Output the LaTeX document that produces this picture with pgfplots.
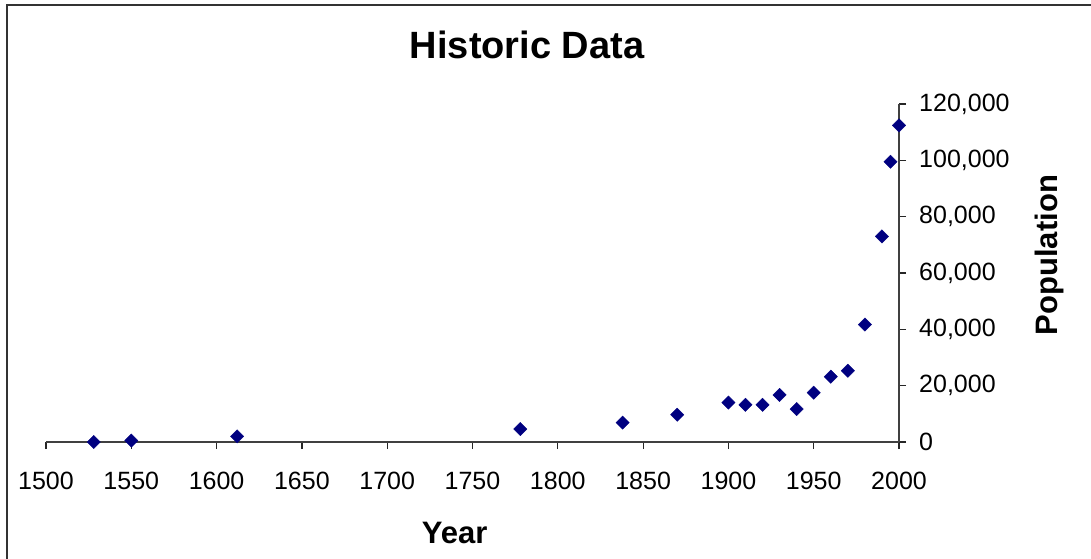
\documentclass[border=0pt]{standalone}
\usepackage{pgfplots}
\pgfplotsset{compat=1.18}
\usepackage{fontspec}
\setmainfont{Liberation Sans}
\begin{document}
\begin{tikzpicture}
\useasboundingbox (0pt,0pt) rectangle (1091pt,558pt);
\draw[line width=2pt, color=black!80] (7pt,-2pt) -- (7pt,553pt) -- (1093pt,553pt);
\begin{axis}[
  at={(46pt,116pt)}, anchor=south west,
  scale only axis, width=853pt, height=338pt,
  xmin=1500, xmax=2000, ymin=0, ymax=120000,
  axis x line=bottom, axis y line=right,
  axis line style={-, line width=1.2pt, color=black!75},
  tick align=outside, major tick length=7pt,
  tick style={line width=1.2pt, color=black!85},
  scaled y ticks=false, scaled x ticks=false,
  xtick={1500,1550,1600,1650,1700,1750,1800,1850,1900,1950,2000},
  xticklabels={1500,1550,1600,1650,1700,1750,1800,1850,1900,1950,2000},
  ytick={0,20000,40000,60000,80000,100000,120000},
  yticklabels={0,{20,000},{40,000},{60,000},{80,000},{100,000},{120,000}},
  xticklabel style={font=\fontsize{25}{30}\selectfont, anchor=base, inner sep=0pt, yshift=-40pt},
  yticklabel style={font=\fontsize{25}{30}\selectfont, anchor=west, inner sep=0pt, xshift=13pt},
  title={Historic Data},
  title style={font=\fontsize{38}{45}\selectfont\bfseries, at={(axis description cs:0.564,1.118)}, anchor=base, inner sep=0pt},
  xlabel={Year},
  xlabel style={font=\fontsize{31}{37}\selectfont\bfseries, at={(axis description cs:0.479,-0.299)}, anchor=base, inner sep=0pt},
  ylabel={Population},
  ylabel style={font=\fontsize{31}{37}\selectfont\bfseries, at={(axis description cs:1.186,0.553)}, anchor=base, inner sep=0pt},
  clip=false,
]
\addplot[only marks, mark=square*, mark size=4.7pt, mark options={rotate=45, fill={rgb,255:red,0;green,0;blue,128}, draw={rgb,255:red,0;green,0;blue,128}}] coordinates {
(1528,0) (1550,500) (1612,2000) (1778,4600) (1838,6900) (1870,9700)
(1900,14000) (1910,13200) (1920,13200) (1930,16700) (1940,11700)
(1950,17500) (1960,23200) (1970,25300) (1980,41700) (1990,73000)
(1995,99500) (2000,112400)
};
\end{axis}
\end{tikzpicture}
\end{document}
